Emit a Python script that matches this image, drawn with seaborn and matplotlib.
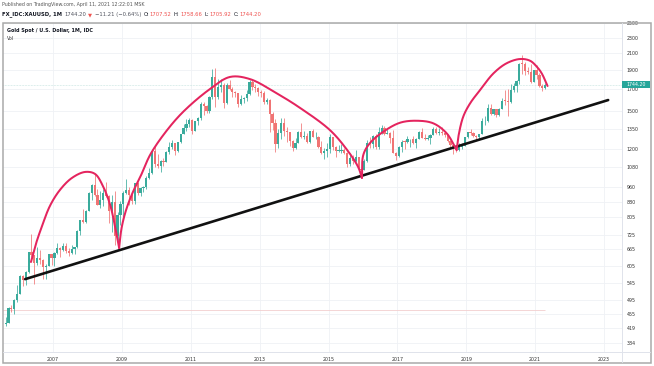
import numpy as np
import pandas as pd
import matplotlib
matplotlib.use("Agg")
import matplotlib.pyplot as plt
from matplotlib.patches import Rectangle
from matplotlib.lines import Line2D
from matplotlib.ticker import FixedLocator, FixedFormatter, NullLocator
import seaborn as sns

# ---------------- data (monthly XAU/USD candles, Aug 2005 .. Apr 2021) ----------------
FIRST_MONTH = "2005-08"
OPEN = [
    429, 433, 473, 470, 495,                                                   # 2005
    513, 568, 556, 582, 654, 643, 614, 632, 626, 599, 604, 646,                # 2006
    632, 650, 672, 663, 679, 658, 650, 665, 673, 743, 789, 783,                # 2007
    834, 923, 972, 916, 865, 886, 928, 912, 833, 880, 718, 815,                # 2008
    869, 928, 942, 916, 883, 979, 926, 954, 956, 1008, 1040, 1182,             # 2009
    1096, 1081, 1118, 1113, 1180, 1213, 1244, 1181, 1248, 1307, 1357, 1386,    # 2010
    1421, 1333, 1410, 1439, 1556, 1536, 1500, 1628, 1826, 1620, 1722, 1746,    # 2011
    1565, 1737, 1697, 1669, 1664, 1561, 1604, 1614, 1648, 1773, 1719, 1714,    # 2012
    1675, 1663, 1578, 1596, 1472, 1393, 1234, 1313, 1396, 1327, 1323, 1253,    # 2013
    1202, 1240, 1326, 1284, 1296, 1250, 1327, 1282, 1287, 1209, 1172, 1183,    # 2014
    1199, 1283, 1212, 1183, 1184, 1190, 1172, 1095, 1134, 1115, 1142, 1065,    # 2015
    1061, 1118, 1238, 1233, 1293, 1214, 1322, 1351, 1309, 1316, 1277, 1173,    # 2016
    1152, 1211, 1249, 1247, 1268, 1269, 1242, 1269, 1322, 1280, 1271, 1275,    # 2017
    1303, 1345, 1318, 1325, 1315, 1298, 1253, 1224, 1202, 1192, 1215, 1222,    # 2018
    1282, 1321, 1313, 1292, 1284, 1305, 1409, 1413, 1520, 1472, 1513, 1464,    # 2019
    1517, 1589, 1585, 1577, 1687, 1730, 1781, 1975, 1968, 1886, 1879, 1776,    # 2020
    1898, 1847, 1734, 1707.52,                                                 # 2021
]
HIGH = [
    448, 475, 480, 498, 540,
    572, 573, 587, 654, 730, 643, 676, 664, 630, 610, 649, 647,
    656, 691, 673, 692, 690, 672, 683, 676, 745, 791, 845, 838,
    930, 975, 1033, 948, 935, 948, 989, 916, 915, 937, 826, 882,
    935, 1006, 960, 919, 982, 989, 958, 965, 1025, 1070, 1195, 1227,
    1162, 1125, 1136, 1183, 1249, 1265, 1244, 1250, 1310, 1388, 1425, 1432,
    1424, 1412, 1447, 1576, 1577, 1553, 1632, 1913, 1920, 1804, 1803, 1764,
    1764, 1791, 1718, 1677, 1665, 1640, 1627, 1693, 1790, 1796, 1755, 1723,
    1694, 1684, 1617, 1605, 1488, 1424, 1348, 1434, 1434, 1361, 1325, 1262,
    1280, 1332, 1392, 1332, 1315, 1332, 1345, 1322, 1289, 1255, 1208, 1239,
    1307, 1284, 1219, 1224, 1232, 1205, 1175, 1170, 1157, 1191, 1144, 1088,
    1128, 1263, 1283, 1303, 1304, 1363, 1375, 1367, 1352, 1323, 1337, 1180,
    1220, 1264, 1264, 1295, 1270, 1296, 1274, 1331, 1357, 1306, 1299, 1309,
    1366, 1361, 1356, 1365, 1326, 1309, 1266, 1224, 1214, 1243, 1237, 1284,
    1326, 1347, 1324, 1300, 1306, 1439, 1453, 1555, 1557, 1517, 1515, 1525,
    1611, 1689, 1704, 1748, 1765, 1789, 1985, 2075, 1992, 1933, 1966, 1906,
    1959, 1872, 1755, 1758.66,
]
LOW = [
    425, 432, 462, 456, 490,
    511, 538, 540, 581, 635, 543, 608, 610, 560, 560, 603, 608,
    603, 646, 637, 660, 651, 642, 648, 648, 670, 723, 776, 778,
    833, 886, 912, 862, 850, 858, 906, 776, 735, 681, 686, 768,
    800, 919, 864, 866, 867, 913, 908, 933, 948, 1003, 1034, 1075,
    1072, 1045, 1087, 1112, 1165, 1201, 1157, 1176, 1241, 1305, 1329, 1360,
    1308, 1330, 1381, 1419, 1462, 1478, 1478, 1601, 1535, 1602, 1670, 1523,
    1563, 1688, 1627, 1627, 1527, 1548, 1564, 1587, 1645, 1692, 1672, 1636,
    1626, 1555, 1562, 1321, 1338, 1180, 1208, 1271, 1291, 1251, 1221, 1187,
    1200, 1238, 1278, 1268, 1240, 1240, 1284, 1273, 1206, 1160, 1132, 1142,
    1167, 1191, 1142, 1175, 1169, 1162, 1077, 1084, 1098, 1111, 1053, 1046,
    1058, 1110, 1208, 1207, 1200, 1199, 1311, 1301, 1304, 1242, 1171, 1122,
    1146, 1180, 1195, 1240, 1214, 1236, 1204, 1267, 1275, 1260, 1264, 1236,
    1302, 1307, 1303, 1302, 1282, 1246, 1211, 1160, 1180, 1182, 1196, 1221,
    1275, 1302, 1281, 1266, 1267, 1304, 1382, 1400, 1459, 1459, 1445, 1454,
    1516, 1548, 1451, 1568, 1670, 1671, 1757, 1863, 1848, 1860, 1765, 1775,
    1803, 1717, 1677, 1705.92,
]
CLOSE = [
    433, 473, 470, 495, 513,
    568, 556, 582, 654, 643, 614, 632, 626, 599, 604, 646, 632,
    650, 672, 663, 679, 658, 650, 665, 673, 743, 789, 783, 834,
    923, 972, 916, 865, 886, 928, 912, 833, 880, 718, 815, 869,
    928, 942, 916, 883, 979, 926, 954, 956, 1008, 1040, 1182, 1096,
    1081, 1118, 1113, 1180, 1213, 1244, 1181, 1248, 1307, 1357, 1386, 1421,
    1333, 1410, 1439, 1556, 1536, 1500, 1628, 1826, 1620, 1722, 1746, 1565,
    1737, 1697, 1669, 1664, 1561, 1604, 1614, 1648, 1773, 1719, 1714, 1675,
    1663, 1578, 1596, 1472, 1393, 1234, 1313, 1396, 1327, 1323, 1253, 1202,
    1240, 1326, 1284, 1296, 1250, 1327, 1282, 1287, 1209, 1172, 1183, 1199,
    1283, 1212, 1183, 1184, 1190, 1172, 1095, 1134, 1115, 1142, 1065, 1061,
    1118, 1238, 1233, 1293, 1214, 1322, 1351, 1309, 1316, 1277, 1173, 1152,
    1211, 1249, 1247, 1268, 1269, 1242, 1269, 1322, 1280, 1271, 1275, 1303,
    1345, 1318, 1325, 1315, 1298, 1253, 1224, 1202, 1192, 1215, 1222, 1282,
    1321, 1313, 1292, 1284, 1305, 1409, 1413, 1520, 1472, 1513, 1464, 1517,
    1589, 1585, 1577, 1687, 1730, 1781, 1975, 1968, 1886, 1879, 1776, 1898,
    1847, 1734, 1708, 1744.20,
]
LAST_PRICE = 1744.20

Y_TICKS = [384, 419, 455, 495, 545, 605, 665, 725, 805, 880, 960, 1080,
           1200, 1350, 1500, 1700, 1900, 2100, 2300, 2500]
X_TICK_YEARS = [2007, 2009, 2011, 2013, 2015, 2017, 2019, 2021, 2023]

# hand-drawn annotations (year, price)
TREND_YEARS = [2006.19, 2023.12]
TREND_PRICES = [559, 1595]

ARC1_YEARS = [2006.36, 2006.51, 2006.68, 2006.91, 2007.20, 2007.55, 2007.93, 2008.22,
              2008.45, 2008.66, 2008.80, 2008.92]
ARC1_PRICES = [618, 690, 762, 858, 942, 1011, 1047, 1035, 964, 863, 762, 671]
ARC2_YEARS = [2008.92, 2008.99, 2009.12, 2009.32, 2009.56, 2009.82, 2010.25, 2010.78, 2011.56,
              2012.14, 2012.72, 2013.50, 2014.17, 2015.04, 2015.54, 2015.86, 2015.97]
ARC2_PRICES = [671, 753, 837, 931, 1029, 1157, 1316, 1489, 1702, 1826, 1803, 1658, 1524,
               1338, 1191, 1078, 1011]
ARC3_YEARS = [2015.97, 2016.01, 2016.20, 2016.59, 2017.08, 2017.56, 2018.04, 2018.43, 2018.72]
ARC3_PRICES = [1011, 1157, 1239, 1325, 1397, 1413, 1392, 1313, 1191]
ARC4_YEARS = [2018.72, 2018.77, 2018.91, 2019.11, 2019.40, 2019.79, 2020.17, 2020.56, 2020.85,
              2021.05, 2021.19, 2021.36]
ARC4_PRICES = [1191, 1287, 1446, 1564, 1691, 1865, 1978, 2028, 2008, 1938, 1865, 1732]

VOL_LEVEL = 467

HEADER_1 = "Published on TradingView.com, April 11, 2021 12:22:01 MSK"
HEADER_2 = [("FX_IDC:XAUUSD, 1M", "#131722", "bold"), ("1744.20", "#50535e", "normal"),
            ("\u25bc", "#ef5350", "normal"), ("\u221211.21 (\u22120.64%)", "#50535e", "normal"),
            ("O:", "#131722", "normal"), ("1707.52", "#ef5350", "normal"),
            ("H:", "#131722", "normal"), ("1758.66", "#ef5350", "normal"),
            ("L:", "#131722", "normal"), ("1705.92", "#ef5350", "normal"),
            ("C:", "#131722", "normal"), ("1744.20", "#ef5350", "normal")]
TITLE = "Gold Spot / U.S. Dollar, 1M, IDC"
SUBTITLE = "Vol"

# ---------------- style ----------------
W, H = 654, 366
UP = "#3aab9c"
DOWN = "#f07474"
ARC_COLOR = "#e4245e"
PX_PER_YEAR, PX_PER_LN = 34.44, 170.8

sns.set_theme(style="white")
plt.rcParams["font.family"] = ["DejaVu Sans"]

fig = plt.figure(figsize=(W / 100, H / 100), dpi=100)
fig.patch.set_facecolor("white")

PL, PR, PT, PB = 3, 622, 23, 351.5
ax = fig.add_axes([PL / W, 1 - PB / H, (PR - PL) / W, (PB - PT) / H])
ax.set_facecolor("white")
ax.set_yscale("log")


def fx(px):
    return px / W


def fy(py):
    return 1 - py / H


# candles
o, h, l, c = (np.asarray(v, float) for v in (OPEN, HIGH, LOW, CLOSE))
per = pd.period_range(FIRST_MONTH, periods=len(c), freq="M")
x = per.year.values + (per.month.values - 0.5) / 12
cols = np.where(c >= o, UP, DOWN)
ax.vlines(x, l, h, colors=cols, lw=0.55, zorder=3)
body = np.maximum(np.abs(c - o), 0.004 * c)
ax.bar(x, body, bottom=np.minimum(o, c), width=0.064, color=cols, linewidth=0, zorder=4)

# last price & volume baseline
ax.axhline(LAST_PRICE, color="#b9ddd8", lw=0.5, ls=(0, (1, 1.2)), zorder=1)
ax.hlines(VOL_LEVEL, 2005.3, x[-1], color="#f3cfcf", lw=0.6, zorder=1)


def catmull(xs, ys, n=30):
    """Centripetal Catmull-Rom through the anchor points (in screen-proportional space)."""
    P = np.column_stack([np.asarray(xs, float) * PX_PER_YEAR, np.log(ys) * PX_PER_LN])
    P = np.vstack([2 * P[0] - P[1], P, 2 * P[-1] - P[-2]])
    out = []
    for i in range(1, len(P) - 2):
        p0, p1, p2, p3 = P[i - 1], P[i], P[i + 1], P[i + 2]
        t0 = 0.0
        t1 = t0 + max(np.linalg.norm(p1 - p0), 1e-6) ** 0.5
        t2 = t1 + max(np.linalg.norm(p2 - p1), 1e-6) ** 0.5
        t3 = t2 + max(np.linalg.norm(p3 - p2), 1e-6) ** 0.5
        t = np.linspace(t1, t2, n, endpoint=False)[:, None]
        A1 = (t1 - t) / (t1 - t0) * p0 + (t - t0) / (t1 - t0) * p1
        A2 = (t2 - t) / (t2 - t1) * p1 + (t - t1) / (t2 - t1) * p2
        A3 = (t3 - t) / (t3 - t2) * p2 + (t - t2) / (t3 - t2) * p3
        B1 = (t2 - t) / (t2 - t0) * A1 + (t - t0) / (t2 - t0) * A2
        B2 = (t3 - t) / (t3 - t1) * A2 + (t - t1) / (t3 - t1) * A3
        out.append((t2 - t) / (t2 - t1) * B1 + (t - t1) / (t2 - t1) * B2)
    out.append(P[-2][None])
    arr = np.vstack(out)
    return arr[:, 0] / PX_PER_YEAR, np.exp(arr[:, 1] / PX_PER_LN)


sns.lineplot(x=TREND_YEARS, y=TREND_PRICES, sort=False, estimator=None, color="#111111",
             lw=1.9, ax=ax, zorder=6, solid_capstyle="round")
for ys, ps in [(ARC1_YEARS, ARC1_PRICES), (ARC2_YEARS, ARC2_PRICES),
               (ARC3_YEARS, ARC3_PRICES), (ARC4_YEARS, ARC4_PRICES)]:
    sx, sy = catmull(ys, ps)
    sns.lineplot(x=sx, y=sy, sort=False, estimator=None, color=ARC_COLOR, lw=1.45,
                 ax=ax, zorder=7, solid_capstyle="round")

# axes
ax.set_xlim(2007 - 50 / PX_PER_YEAR, 2007 + 569 / PX_PER_YEAR)
ax.set_ylim(366, 2504)
ax.yaxis.set_major_locator(FixedLocator(Y_TICKS))
ax.yaxis.set_major_formatter(FixedFormatter([str(v) for v in Y_TICKS]))
ax.yaxis.set_minor_locator(NullLocator())
ax.yaxis.tick_right()
ax.set_xticks(X_TICK_YEARS)
ax.set_xticklabels([str(v) for v in X_TICK_YEARS])
ax.tick_params(axis="y", length=0, pad=3.2, labelsize=3.4, labelcolor="#333333")
ax.tick_params(axis="x", length=0, pad=4.2, labelsize=3.4, labelcolor="#333333")
ax.grid(True, color="#eff1f5", lw=0.6)
ax.set_axisbelow(True)
ax.set_xlabel("")
ax.set_ylabel("")
for s in ax.spines.values():
    s.set_visible(False)

# frame & separators
fig.add_artist(Line2D([fx(PR), fx(PR)], [fy(PT), fy(362)], color="#e0e3eb", lw=0.7))
fig.add_artist(Line2D([fx(PL), fx(650)], [fy(PB), fy(PB)], color="#e0e3eb", lw=0.7))
fig.add_artist(Rectangle((fx(3), fy(362.5)), fx(650.5) - fx(3), fy(22.5) - fy(362.5),
                         fill=False, ec="#a9a9a9", lw=1.1))

# price tag
fig.canvas.draw()
ty = ax.transData.transform((x[-1], LAST_PRICE))[1]
tag_py = H - ty
fig.add_artist(Rectangle((fx(622), fy(tag_py + 3.6)), fx(650) - fx(622), 7.2 / H,
                         fc="#26a69a", ec="none", zorder=5))
fig.text(fx(636), fy(tag_py), f"{LAST_PRICE:.2f}", color="white", fontsize=3.4,
         ha="center", va="center", zorder=6)

# headers
fig.text(fx(2), fy(4.5), HEADER_1, color="#555555", fontsize=3.4, ha="left", va="center")
renderer = fig.canvas.get_renderer()
cx = 2
for s, col, wt in HEADER_2:
    t = fig.text(fx(cx), fy(14.5), s, color=col, fontsize=3.75, fontweight=wt, ha="left", va="center")
    bb = t.get_window_extent(renderer=renderer)
    gap = 0.6 if s.endswith(":") else 2.3
    cx += bb.width + gap
fig.text(fx(7), fy(30.5), TITLE, color="#131722", fontsize=3.5, fontweight="bold", ha="left", va="center")
fig.text(fx(7), fy(38), SUBTITLE, color="#333333", fontsize=3.4, ha="left", va="center")

fig.savefig("out.png", dpi=100, facecolor="white")
